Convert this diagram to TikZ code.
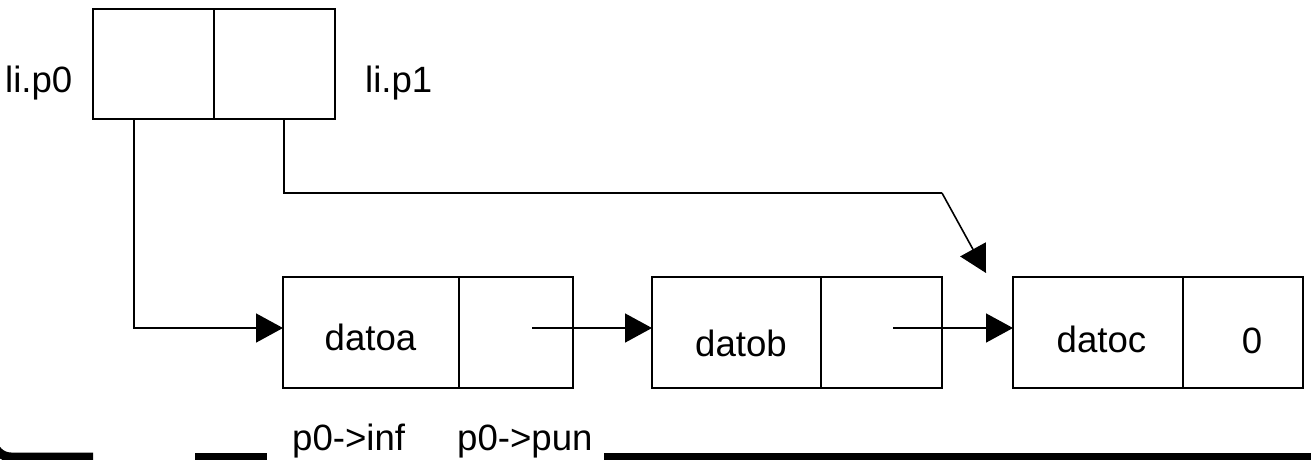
\documentclass[tikz,border=0pt]{standalone}
\usepackage{fontspec}
\setmainfont{Liberation Sans}
\usetikzlibrary{arrows.meta}
\begin{document}
\begin{tikzpicture}[x=1pt,y=-1pt,
  cell/.style={draw, line width=2pt, rectangle, inner sep=0pt, outer sep=0pt, anchor=north west},
  lbl/.style={font=\fontsize{36.6}{44}\selectfont, inner sep=0pt},
  conn/.style={line width=1.6pt, -{Triangle[length=27pt,width=29pt]}},
  wire/.style={line width=1.6pt},
  bar/.style={line width=9pt}]
\useasboundingbox (0,0) rectangle (1311,459);
% top record
\node[cell, minimum width=121pt, minimum height=110pt] (p0) at (93,9) {};
\node[cell, minimum width=121pt, minimum height=110pt] (p1) at (214,9) {};
% list nodes
\node[cell, minimum width=176pt, minimum height=111pt] (A) at (283,277) {};
\node[cell, minimum width=114pt, minimum height=111pt] (A2) at (459,277) {};
\node[cell, minimum width=169pt, minimum height=111pt] (B) at (652,277) {};
\node[cell, minimum width=121pt, minimum height=111pt] (B2) at (821,277) {};
\node[cell, minimum width=170pt, minimum height=111pt] (C) at (1013,277) {};
\node[cell, minimum width=120pt, minimum height=111pt] (C2) at (1183,277) {};
% labels
\node[lbl, anchor=base west] (lp0) at (5,92) {li.p0};
\node[lbl, anchor=base west] (lp1) at (365,92) {li.p1};
\node[lbl, anchor=base] (ta) at (370.5,350) {datoa};
\node[lbl, anchor=base] (tb) at (741,356) {datob};
\node[lbl, anchor=base] (tc) at (1101.5,352) {datoc};
\node[lbl, anchor=base] (tz) at (1252,353) {0};
\node[lbl, anchor=base west] (linf) at (292,450) {p0->inf};
\node[lbl, anchor=base west] (lpun) at (457,450) {p0->pun};
% connectors
\coordinate (bend) at (942,193);
\coordinate (ctip) at (986,273);
\coordinate (ao) at (532,328);
\coordinate (bo) at (893,328);
\draw[conn] ([xshift=-19.5pt]p0.south) |- ([yshift=4.5pt]A.west);
\draw[wire] ([xshift=9.5pt]p1.south) |- (bend);
\draw[conn] (bend) -- (ctip);
\draw[conn] (ao) -- ([yshift=4.5pt]B.west);
\draw[conn] (bo) -- ([yshift=4.5pt]C.west);
% bottom bars
\draw[bar, rounded corners=18pt] (-7,380) -- (-7,457) -- (93,457);
\draw[bar] (195,457) -- (267,457);
\draw[bar] (604,457) -- (1320,457);
\end{tikzpicture}
\end{document}
